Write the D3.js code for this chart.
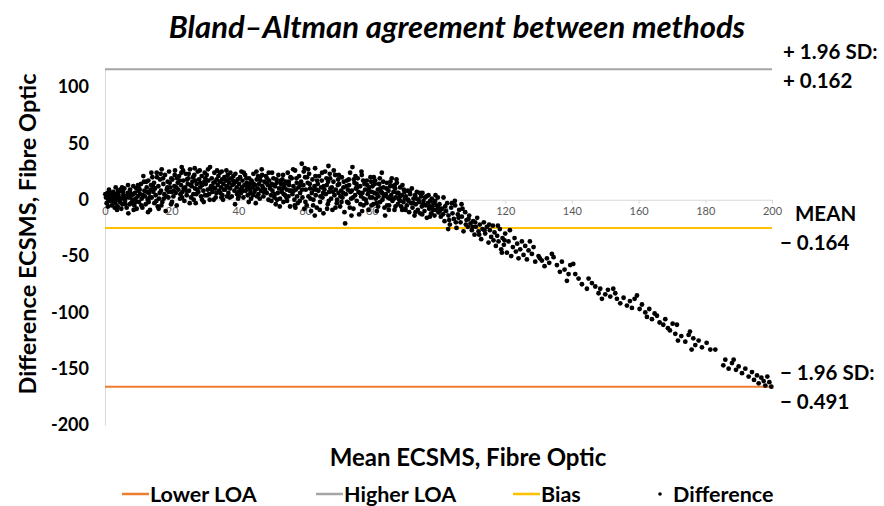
<!DOCTYPE html>
<meta charset="utf-8">
<style>
body { margin: 0; background: #fff; }
svg text { font-family: Lato, "Open Sans", sans-serif; }
.xaxis text { font-size: 11px; fill: #595959; font-weight: normal; }
.xaxis path, .xaxis line { stroke: #d9d9d9; }
.yaxis text { font-size: 18px; font-weight: bold; fill: #000; }
.yaxis path { stroke: #d9d9d9; }
.lab { font-weight: bold; fill: #000; }
</style>
<svg width="884" height="506"></svg>
<script src="https://d3js.org/d3.v7.min.js"></script>
<script>

// limits of agreement and bias, in chart units
var biasValue = -25,
    higherLOA = 116,
    lowerLOA = -166;

var xTicks = [0, 20, 40, 60, 80, 100, 120, 140, 160, 180, 200];
var yTicks = [-200, -150, -100, -50, 0, 50, 100];

var legendNames = ["Lower LOA", "Higher LOA", "Bias", "Difference"];
var legendColors = ["#ED7D31", "#A5A5A5", "#FFC000", "#000"];

var sideLabels = [["+ 1.96 SD:", "+ 0.162"], ["MEAN", "\u2212 0.164"], ["\u2212 1.96 SD:", "\u2212 0.491"]];

// [mean, difference]
var points = [
[0.3,2],[0.5,-3],[0.8,6],[1,0],[1.2,9],[1.5,-1],[1.7,4],[2,-5],[2.2,1],[2.5,7],[2.8,-2],[3,3],[3.2,11],[3.5,0],[3.8,-6],[4,5],[4.2,2],[4.5,-2],[4.8,8],[5,1],
[5.2,-4],[5.5,4],[5.8,10],[6,-1],[6.2,3],[6.5,-7],[6.8,6],[7,-12],[7.2,2],[7.5,9],[7.8,-3],[8,4],[8.2,0],[8.5,12],[8.8,-5],[9,6],[9.2,1],[9.5,-8],[9.8,3],[10,8],
[0.6,4],[1.4,3],[2.4,-1],[3.4,5],[4.4,0],[5.4,7],[6.4,2],[7.4,-4],[8.4,5],[9.4,10],[2.9,-7],[6.9,13],[4.6,9],[1.9,6],[8.9,-1],
[0.1,5],[0.9,-6],[1.6,1],[2.6,3],[3.1,-3],[3.9,8],[4.9,-8],[5.7,2],[6.1,-4],[7.6,6],[8.6,-9],[9.1,-2],[9.9,13],[3.6,-9],[5.1,11],
[10.2,-2],[10.5,5],[10.8,14],[11,1],[11.2,-7],[11.5,21],[11.8,8],[12,3],[12.2,-4],[12.5,11],[12.8,0],[13,17],[13.2,6],[13.5,-9],[13.8,13],[14,2],[14.2,20],[14.5,7],[14.8,-3],[15,10],
[15.2,4],[15.5,24],[15.8,-6],[16,12],[16.2,1],[16.5,18],[16.8,8],[17,27],[17.2,-2],[17.5,14],[17.8,5],[18,22],[18.2,-10],[18.5,9],[18.8,16],[19,2],[19.2,25],[19.5,11],[19.8,-4],[20,7],
[10.4,9],[11.4,4],[12.4,16],[13.4,2],[14.4,12],[15.4,-1],[16.4,6],[17.4,19],[18.4,3],[19.4,15],[13.9,24],[16.9,-5],
[10.1,11],[10.9,-5],[11.7,16],[12.6,7],[13.1,-2],[13.7,9],[14.7,15],[15.6,20],[16.1,-8],[16.7,23],[17.6,1],[18.7,11],[19.1,7],[19.9,19],[12.9,-11],
[20.2,18],[20.5,3],[20.8,12],[21,26],[21.2,6],[21.5,-5],[21.8,15],[22,9],[22.2,21],[22.5,1],[22.8,13],[23,29],[23.2,7],[23.5,17],[23.8,-1],[24,11],[24.2,23],[24.5,4],[24.8,14],[25,19],
[25.2,8],[25.5,27],[25.8,2],[26,12],[26.2,16],[26.5,5],[26.8,22],[27,10],[27.2,-3],[27.5,14],[27.8,25],[28,7],[28.2,18],[28.5,11],[28.8,3],[29,21],[29.2,13],[29.5,8],[29.8,16],[30,4],
[20.6,8],[21.6,19],[22.6,5],[23.6,10],[24.6,18],[25.6,13],[26.6,0],[27.6,9],[28.6,15],[29.6,-2],[22.9,24],[26.9,28],
[20.1,-2],[20.9,22],[21.4,11],[22.4,17],[23.1,2],[23.4,26],[24.4,8],[25.1,23],[25.4,-3],[26.4,20],[27.1,17],[27.4,5],[28.4,26],[29.1,0],[29.9,24],
[30.2,14],[30.5,22],[30.8,9],[31,17],[31.2,5],[31.5,29],[31.8,12],[32,19],[32.2,7],[32.5,15],[32.8,24],[33,10],[33.2,2],[33.5,18],[33.8,13],[34,21],[34.2,8],[34.5,16],[34.8,11],[35,25],
[35.2,4],[35.5,14],[35.8,20],[36,9],[36.2,17],[36.5,12],[36.8,22],[37,6],[37.2,15],[37.5,10],[37.8,19],[38,3],[38.2,13],[38.5,21],[38.8,8],[39,-4],[39.2,16],[39.5,11],[39.8,18],[40,7],
[30.6,4],[31.6,10],[32.6,0],[33.6,26],[34.6,6],[35.6,9],[36.6,3],[37.6,24],[38.6,14],[39.6,5],[34.9,2],[36.9,18],
[30.1,19],[30.9,27],[31.4,0],[32.4,11],[33.1,16],[33.4,6],[34.4,24],[35.1,18],[35.4,0],[36.4,26],[37.1,11],[37.4,2],[38.4,17],[39.1,23],[39.9,1],
[40.2,14],[40.5,20],[40.8,6],[41,11],[41.2,17],[41.5,2],[41.8,13],[42,22],[42.2,8],[42.5,15],[42.8,4],[43,12],[43.2,19],[43.5,9],[43.8,1],[44,16],[44.2,11],[44.5,23],[44.8,7],[45,13],
[45.2,-3],[45.5,18],[45.8,10],[46,5],[46.2,14],[46.5,20],[46.8,8],[47,27],[47.2,12],[47.5,3],[47.8,16],[48,9],[48.2,21],[48.5,6],[48.8,13],[49,0],[49.2,17],[49.5,10],[49.8,4],[50,14],
[40.6,9],[41.6,24],[42.6,11],[43.6,6],[44.6,14],[45.6,3],[46.6,17],[47.6,7],[48.6,19],[49.6,12],[43.9,17],[45.9,21],
[40.1,3],[40.9,25],[41.4,8],[42.4,19],[43.1,-2],[43.4,14],[44.4,4],[45.1,9],[45.4,25],[46.4,1],[47.1,22],[47.4,10],[48.4,15],[49.1,24],[49.9,-1],
[50.2,8],[50.5,19],[50.8,2],[51,12],[51.2,-4],[51.5,15],[51.8,6],[52,22],[52.2,10],[52.5,1],[52.8,14],[53,7],[53.2,18],[53.5,-2],[53.8,11],[54,4],[54.2,16],[54.5,9],[54.8,24],[55,3],
[55.2,13],[55.5,-6],[55.8,8],[56,19],[56.2,5],[56.5,12],[56.8,0],[57,26],[57.2,9],[57.5,15],[57.8,-3],[58,11],[58.2,21],[58.5,6],[58.8,16],[59,32],[59.2,2],[59.5,13],[59.8,-8],[60,20],
[50.6,13],[51.6,0],[52.6,17],[53.6,5],[54.6,-1],[55.6,20],[56.6,8],[57.6,3],[58.6,13],[59.6,25],[53.9,14],[56.9,-5],
[50.1,24],[50.9,5],[51.4,18],[52.4,-6],[53.1,10],[53.4,22],[54.4,2],[55.1,16],[55.4,8],[56.4,27],[57.1,-7],[57.4,19],[58.4,-1],[59.1,9],[59.9,28],
[60.2,9],[60.5,-5],[60.8,15],[61,3],[61.2,23],[61.5,10],[61.8,-10],[62,6],[62.2,18],[62.5,0],[62.8,12],[63,28],[63.2,4],[63.5,-7],[63.8,14],[64,8],[64.2,21],[64.5,-2],[64.8,11],[65,17],
[65.2,2],[65.5,-12],[65.8,9],[66,25],[66.2,5],[66.5,13],[66.8,-4],[67,30],[67.2,7],[67.5,19],[67.8,1],[68,11],[68.2,-9],[68.5,16],[68.8,4],[69,22],[69.2,9],[69.5,-3],[69.8,13],[70,6],
[60.6,20],[61.6,1],[62.6,9],[63.6,17],[64.6,3],[65.6,12],[66.6,-8],[67.6,10],[68.6,26],[69.6,0],[62.9,-14],[66.9,16],
[60.1,-2],[60.9,27],[61.4,14],[62.4,-5],[63.1,21],[63.4,9],[64.4,-9],[65.1,24],[65.4,6],[66.4,19],[67.1,-1],[67.4,23],[68.4,7],[69.1,-7],[69.9,18],
[70.2,14],[70.5,-6],[70.8,8],[71,20],[71.2,2],[71.5,11],[71.8,-11],[72,-21],[72.2,5],[72.5,17],[72.8,9],[73,-3],[73.2,13],[73.5,24],[73.8,1],[74,8],[74.2,29],[74.5,-8],[74.8,15],[75,4],
[75.2,10],[75.5,-1],[75.8,19],[76,7],[76.2,-13],[76.5,12],[76.8,3],[77,22],[77.2,6],[77.5,-5],[77.8,14],[78,9],[78.2,0],[78.5,17],[78.8,5],[79,-9],[79.2,11],[79.5,2],[79.8,16],[80,7],
[70.6,3],[71.6,16],[72.6,-2],[73.6,7],[74.6,18],[75.6,11],[76.6,-4],[77.6,1],[78.6,13],[79.6,20],[73.9,-14],[76.9,25],
[70.1,22],[70.9,-2],[71.4,6],[72.4,12],[73.1,18],[73.4,-7],[74.4,2],[75.1,21],[75.4,14],[76.4,6],[77.1,-10],[77.4,17],[78.4,-3],[79.1,8],[79.9,-5],
[80.2,12],[80.5,-4],[80.8,6],[81,17],[81.2,1],[81.5,-10],[81.8,9],[82,3],[82.2,14],[82.5,-2],[82.8,7],[83,24],[83.2,0],[83.5,11],[83.8,-7],[84,-14],[84.2,5],[84.5,15],[84.8,2],[85,8],
[85.2,-5],[85.5,12],[85.8,4],[86,19],[86.2,-1],[86.5,7],[86.8,-9],[87,10],[87.2,2],[87.5,15],[87.8,-4],[88,6],[88.2,0],[88.5,11],[88.8,-6],[89,4],[89.2,13],[89.5,-2],[89.8,7],[90,-8],
[80.6,20],[81.6,5],[82.6,10],[83.6,3],[84.6,-5],[85.6,16],[86.6,1],[87.6,6],[88.6,-1],[89.6,9],[81.9,-6],[86.9,13],
[80.1,2],[80.9,14],[81.4,-3],[82.4,19],[83.1,6],[83.4,16],[84.4,10],[85.1,-9],[85.4,1],[86.4,12],[87.1,-6],[87.4,18],[88.4,3],[89.1,-9],[89.9,1],
[90.2,3],[90.5,-5],[90.8,8],[91,-1],[91.2,-11],[91.5,5],[91.8,-3],[92,10],[92.2,-7],[92.5,1],[92.8,-14],[93,4],[93.2,-4],[93.5,7],[93.8,-9],[94,0],[94.2,-2],[94.5,-12],[94.8,3],[95,-6],
[95.2,6],[95.5,-1],[95.8,-10],[96,2],[96.2,-5],[96.5,-16],[96.8,-3],[97,4],[97.2,-8],[97.5,-1],[97.8,-12],[98,1],[98.2,-6],[98.5,-3],[98.8,-14],[99,-1],[99.2,-9],[99.5,-5],[99.8,2],[100,-11],
[90.1,-9],[90.9,0],[91.4,7],[92.4,-3],[93.1,-11],[93.4,1],[94.4,6],[95.1,-13],[95.4,-4],[96.4,3],[97.1,-5],[97.4,-15],[98.4,-9],[99.1,4],[99.9,-6],
[100.3,-4],[100.7,-15],[101,-8],[101.5,2],[101.8,-19],[102.2,-10],[102.6,-3],[103,-14],[103.4,-22],[103.8,-7],[104.2,-12],[104.6,-17],[105,-5],[105.4,-25],[105.8,-13],[106.2,-9],[106.6,-20],[107,-15],[107.5,-28],[108,-11],
[108.4,-18],[108.8,-24],[109.2,-14],[109.6,-21],[110,-27],[104.9,-1],[102.9,-26],[106.9,-4],
[100.5,-9],[101.3,-13],[102,-6],[103.2,-18],[104,-3],[105.2,-20],[106,-16],[107.2,-8],[108.2,-22],[109,-17],
[110.4,-19],[110.8,-31],[111.2,-24],[111.6,-16],[112,-28],[112.4,-22],[112.8,-35],[113.2,-26],[113.6,-20],[114,-30],[114.5,-24],[115,-38],[115.4,-27],[115.8,-33],[116.3,-23],[116.8,-29],[117.2,-41],[117.6,-32],[118,-37],[118.4,-26],
[118.8,-44],[119.2,-34],[119.6,-40],[120,-30],
[110.2,-24],[111,-20],[112.2,-31],[113.8,-27],[115.2,-22],[116.5,-36],[117.8,-23],[119,-47],[119.8,-36],
[120.5,-47],[121,-37],[121.4,-27],[121.8,-50],[122.3,-42],[122.8,-34],[123.2,-46],[123.6,-39],[124,-52],[124.5,-44],[125,-37],[125.5,-49],[126,-41],[126.5,-53],[127,-45],[127.4,-37],[128,-48],[128.5,-42],[129,-55],[130,-50],
[130.4,-52],[131,-54],[131.8,-59],[132.5,-52],[133.2,-56],[134,-48],[134.5,-51],[135.5,-58],[136.4,-64],[137,-55],[137.8,-62],[138.5,-72],[139,-66],[139.5,-58],[140.4,-57],
[141,-66],[142,-70],[143,-75],[144.5,-79],[145,-70],[146,-74],[147,-77],[148,-83],[148.5,-79],[149,-88],
[150,-84],[150.8,-80],[151.5,-86],[152.4,-79],[153,-83],[153.5,-88],[154.5,-92],[155.5,-87],[156.5,-94],[157.4,-90],[158,-96],[158.8,-88],[159.5,-85],[160.3,-97],
[161,-93],[162,-100],[162.5,-104],[163.2,-97],[164,-106],[164.8,-101],[165.5,-103],[166.3,-109],[167.4,-111],[168,-106],[168.8,-114],[169.4,-116],[170.2,-110],
[171,-119],[171.5,-111],[171.8,-125],[172.8,-121],[174,-126],[175,-120],[175.4,-117],[175.9,-133],[176.4,-123],[177,-129],[178,-125],[179,-131],[180.4,-127],[181.5,-133],[183,-133],
[185.4,-147],[186,-142],[187,-150],[188,-145],[188.5,-142],[189.2,-151],[190,-148],[191,-154],[192,-150],[193,-157],[194,-153],[194.6,-160],[195.5,-156],[196,-163],[196.8,-158],[197.5,-161],[198,-165],[198.6,-157],[199.2,-162],[199.8,-166]
];

var svg = d3.select("svg");

var x = d3.scaleLinear().domain([0, 200]).range([105, 772]);
var y = d3.scaleLinear().domain([-200, 117]).range([425, 68]);

// y axis on the left edge, plain hyphen for negatives
svg.append("g")
    .attr("class", "yaxis")
    .attr("transform", "translate(105,0)")
    .call(d3.axisLeft(y).tickValues(yTicks).tickSize(0).tickPadding(16).tickSizeOuter(0)
      .tickFormat(function(d) { return String(d); }));

// x axis through zero
svg.append("g")
    .attr("class", "xaxis")
    .attr("transform", "translate(0," + y(0) + ")")
    .call(d3.axisBottom(x).tickValues(xTicks).tickSize(4).tickSizeOuter(4).tickPadding(3));

// reference lines
var refs = [[lowerLOA, legendColors[0]], [higherLOA, legendColors[1]], [biasValue, legendColors[2]]];
svg.selectAll(".ref").data(refs).enter().append("line")
    .attr("class", "ref")
    .attr("x1", x(0)).attr("x2", x(200))
    .attr("y1", function(d) { return y(d[0]); })
    .attr("y2", function(d) { return y(d[0]); })
    .attr("stroke", function(d) { return d[1]; })
    .attr("stroke-width", 2);

// the scatter
svg.append("g").selectAll("circle").data(points).enter().append("circle")
    .attr("cx", function(d) { return x(d[0]); })
    .attr("cy", function(d) { return y(d[1]); })
    .attr("r", 2.4)
    .attr("fill", "#000");

// title
svg.append("text").attr("class", "lab")
    .attr("x", 457).attr("y", 38)
    .attr("text-anchor", "middle")
    .style("font-size", "31px").style("font-style", "italic")
    .text("Bland\u2013Altman agreement between methods");

// axis titles
svg.append("text").attr("class", "lab")
    .attr("x", 468).attr("y", 466)
    .attr("text-anchor", "middle")
    .style("font-size", "24px")
    .text("Mean ECSMS, Fibre Optic");

svg.append("text").attr("class", "lab")
    .attr("transform", "translate(36,234) rotate(-90)")
    .attr("text-anchor", "middle")
    .style("font-size", "23.5px")
    .text("Difference  ECSMS, Fibre Optic");

// labels at the right of the reference lines
var sidePos = [[783, 59], [795, 221], [780, 380]];
sideLabels.forEach(function(pair, i) {
  pair.forEach(function(t, j) {
    svg.append("text").attr("class", "lab")
      .attr("x", sidePos[i][0] - (i == 1 && j == 1 ? 15 : 0))
      .attr("y", sidePos[i][1] + j * 29)
      .style("font-size", "20.5px")
      .text(t);
  });
});

// legend
var legX = [122, 316, 513, 655];
var leg = svg.selectAll(".leg").data(legendNames).enter().append("g")
    .attr("class", "leg")
    .attr("transform", function(d, i) { return "translate(" + legX[i] + ",494)"; });

leg.filter(function(d, i) { return i < 3; }).append("line")
    .attr("x1", 0).attr("x2", 27)
    .attr("stroke", function(d, i) { return legendColors[i]; })
    .attr("stroke-width", 2.5);

leg.filter(function(d, i) { return i == 3; }).append("circle")
    .attr("cx", 5).attr("r", 1.8).attr("fill", "#000");

leg.append("text").attr("class", "lab")
    .attr("x", function(d, i) { return i < 3 ? 28 : 18; })
    .attr("y", 8)
    .style("font-size", "21.5px")
    .text(function(d) { return d; });

</script>
